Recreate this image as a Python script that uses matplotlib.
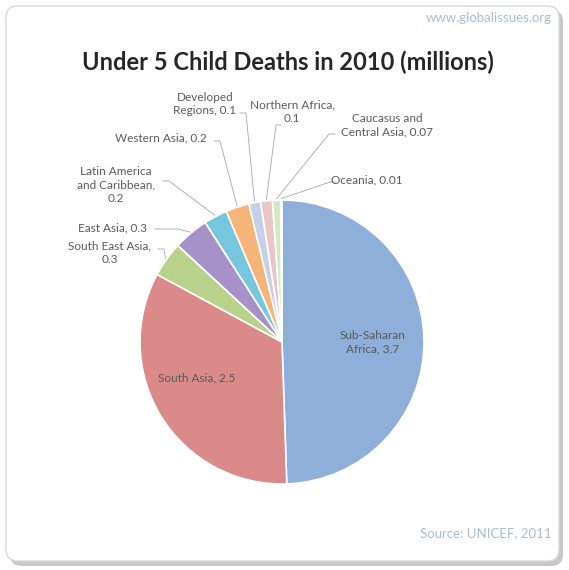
import matplotlib.pyplot as plt
import numpy as np
from matplotlib.patches import FancyBboxPatch

# Data (millions of under-5 deaths, 2010)
regions = ["Sub-Saharan\nAfrica", "South Asia", "South East Asia,\n", "East Asia",
           "Latin America\nand Caribbean,\n", "Western Asia", "Developed\nRegions",
           "Northern Africa,\n", "Caucasus and\nCentral Asia", "Oceania"]
deaths = [3.7, 2.5, 0.3, 0.3, 0.2, 0.2, 0.1, 0.1, 0.07, 0.01]
value_text = ["3.7", "2.5", "0.3", "0.3", "0.2", "0.2", "0.1", "0.1", "0.07", "0.01"]
colors = ["#8dafd9", "#da8a88", "#b8d28c", "#a692c8", "#76c6de", "#f7b479",
          "#c6d0e8", "#eac6c6", "#d9e6c4", "#d5cde4"]

W, H = 569, 570
fig = plt.figure(figsize=(W / 100, H / 100), dpi=100)
fig.patch.set_facecolor("white")

# frame with shadow
shadow = FancyBboxPatch((10 / W, 4 / H), 553 / W, 556 / H,
                        boxstyle="round,pad=0,rounding_size=0.02",
                        transform=fig.transFigure, facecolor="#c8c8c8",
                        edgecolor="none", zorder=0)
frame = FancyBboxPatch((6 / W, 9 / H), 553 / W, 555 / H,
                       boxstyle="round,pad=0,rounding_size=0.02",
                       transform=fig.transFigure, facecolor="white",
                       edgecolor="#d9d9d9", linewidth=1.0, zorder=1)
fig.patches.extend([shadow, frame])

# pie axes: centre (282, 342) px, radius 142 px
cx, cy, r = 282, 342, 142
ax = fig.add_axes([(cx - r) / W, (H - cy - r) / H, 2 * r / W, 2 * r / H])
ax.set_zorder(2)
wedges, _ = ax.pie(deaths, colors=colors, startangle=90, counterclock=False,
                   radius=1.0, wedgeprops=dict(edgecolor="white", linewidth=1.2))
ax.set_xlim(-1, 1)
ax.set_ylim(-1, 1)
ax.set_aspect("equal")
ax.axis("off")


def px(x, y):
    return (x - cx) / r, (cy - y) / r


label_color = "#595959"
fnt = "Lato"
fs = 8.5

# inside labels
ax.text(*px(373, 342), f"{regions[0]}, {value_text[0]}", ha="center", va="center",
        fontsize=fs, color=label_color, family=fnt, linespacing=1.3)
ax.text(*px(197, 378), f"{regions[1]}, {value_text[1]}", ha="center", va="center",
        fontsize=fs, color=label_color, family=fnt)

# outside labels: text centre, leader start, kink (pixels)
outside = {
    2: ((110, 253), (158, 249), (164, 249)),
    3: ((112, 228), (155, 229), (178, 229)),
    4: ((116, 185), (163, 181), (169, 181)),
    5: ((161, 138), (214, 141), (220, 141)),
    6: ((205, 104), (240, 113), (246, 113)),
    7: ((292, 112), (281, 125), (276, 125)),
    8: ((387, 125), (335, 134), (329, 134)),
    9: ((367, 180), (336, 182), (330, 182)),
}

total = sum(deaths)
cum = np.cumsum([0] + deaths)
for i, ((tx, ty), (lx, ly), (kx, ky)) in outside.items():
    mid = (cum[i] + cum[i + 1]) / 2 / total
    ang = np.deg2rad(90 - mid * 360)
    ex, ey = np.cos(ang), np.sin(ang)
    name = regions[i]
    if name.endswith("\n"):
        txt = name + value_text[i]
    else:
        txt = f"{name}, {value_text[i]}"
    ax.text(*px(tx, ty), txt, ha="center", va="center", fontsize=fs,
            color=label_color, family=fnt, linespacing=1.3)
    sx, sy = px(lx, ly)
    kxd, kyd = px(kx, ky)
    ax.plot([sx, kxd, ex * 1.01], [sy, kyd, ey * 1.01], color="#a6a6a6",
            linewidth=0.6, clip_on=False)

fig.text(288 / W, 1 - 62 / H, "Under 5 Child Deaths in 2010 (millions)",
         ha="center", va="center", fontsize=17, fontweight="bold",
         color="#262626", family=fnt)
fig.text(552 / W, 1 - 18 / H, "www.globalissues.org", ha="right", va="center",
         fontsize=9.5, color="#a9bcd6", family=fnt)
fig.text(552 / W, 1 - 533 / H, "Source: UNICEF, 2011", ha="right", va="center",
         fontsize=9.5, color="#a9bcd6", family=fnt)

fig.savefig("out.png", dpi=100)
